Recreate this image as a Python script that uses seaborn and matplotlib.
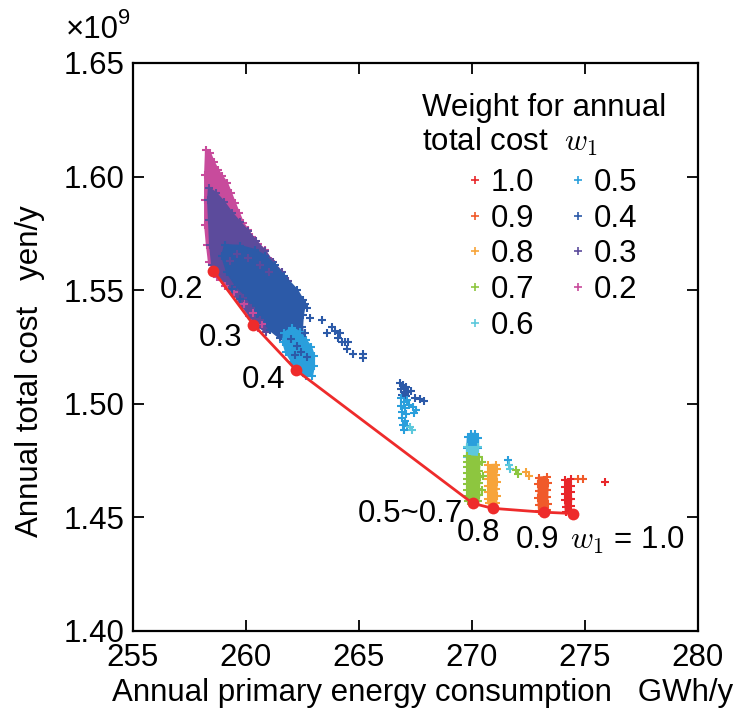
import matplotlib
matplotlib.use("Agg")
import matplotlib.pyplot as plt
import seaborn as sns
from matplotlib.lines import Line2D
from matplotlib.ticker import FormatStrFormatter, MultipleLocator

sns.set_style("ticks")
plt.rcParams['font.family'] = ['Liberation Sans', 'DejaVu Sans']
plt.rcParams['mathtext.fontset'] = 'cm'
for key in ('text.color', 'axes.labelcolor', 'xtick.color', 'ytick.color',
            'axes.edgecolor'):
    plt.rcParams[key] = 'black'

# ---------------------------------------------------------------- data
# energy in GWh/y, cost in 10^9 yen/y
WEIGHTS = ['1.0', '0.9', '0.8', '0.7', '0.6', '0.5', '0.4', '0.3', '0.2']
COLORS = ['#e8262a', '#f05a2a', '#f7a43a', '#8dc63f', '#5cc8dc',
          '#2a9fdc', '#2c5aa8', '#5c4b9c', '#c84b9c']

# Pareto front
FRONT_LABELS = ['0.2', '0.3', '0.4', '0.5~0.7', '0.8', '0.9', '1.0']
FRONT_ENERGY = [258.55, 260.32, 262.23, 270.03, 270.91, 273.17, 274.46]
FRONT_COST = [1.5586, 1.5349, 1.5147, 1.4562, 1.4540, 1.4523, 1.4517]

# dense solution clouds: outline points of each cloud
ENV_02_X = [258.23, 258.41, 258.58, 258.76, 258.94, 259.16, 259.34, 259.51, 259.69,
            259.87, 260.09, 260.27, 260.53, 260.84, 261.10, 261.33, 260.97, 260.53,
            260.13, 259.73, 259.34, 258.94, 258.58, 258.36, 258.27, 258.19, 258.19,
            258.19]
ENV_02_Y = [1.6117, 1.6104, 1.6064, 1.6029, 1.6003, 1.5972, 1.5928, 1.5884, 1.5840,
            1.5796, 1.5765, 1.5734, 1.5704, 1.5677, 1.5630, 1.5567, 1.5435, 1.5334,
            1.5387, 1.5448, 1.5501, 1.5545, 1.5589, 1.5624, 1.5699, 1.5787, 1.5897,
            1.6007]

ENV_03_X = [258.36, 258.67, 259.03, 259.38, 259.73, 260.09, 260.44, 260.84, 261.19,
            261.59, 261.86, 261.77, 261.33, 260.88, 260.53, 260.18, 259.82, 259.47,
            259.12, 258.76, 258.50, 258.41, 258.36, 258.32]
ENV_03_Y = [1.5950, 1.5928, 1.5888, 1.5840, 1.5800, 1.5761, 1.5717, 1.5673, 1.5624,
            1.5580, 1.5541, 1.5457, 1.5369, 1.5316, 1.5343, 1.5387, 1.5435, 1.5484,
            1.5528, 1.5567, 1.5611, 1.5699, 1.5809, 1.5897]

ENV_04_X = [259.07, 259.73, 260.40, 260.84, 261.28, 261.68, 262.26, 262.52,
            262.61, 262.52, 262.48, 262.57, 262.39, 261.95, 261.50, 261.06, 260.49,
            260.00, 259.56, 259.16, 258.94]
ENV_04_Y = [1.5699, 1.5695, 1.5677, 1.5651, 1.5611, 1.5563, 1.5501, 1.5457,
            1.5440, 1.5391, 1.5338, 1.5281, 1.5246, 1.5259, 1.5290, 1.5325, 1.5396,
            1.5475, 1.5519, 1.5580, 1.5651]

ENV_05A_X = [261.68, 262.04, 262.39, 262.65, 262.88, 263.01, 263.01, 262.92, 262.65,
             262.35, 262.04, 261.77, 261.64]
ENV_05A_Y = [1.5312, 1.5334, 1.5316, 1.5281, 1.5250, 1.5211, 1.5167, 1.5123, 1.5123,
             1.5145, 1.5184, 1.5228, 1.5272]

ENV_05B_X = [269.82, 269.96, 270.13, 270.27, 270.27, 269.78]
ENV_05B_Y = [1.4854, 1.4868, 1.4868, 1.4850, 1.4806, 1.4806]

ENV_06_X = [269.78, 270.27, 270.27, 269.78]
ENV_06_Y = [1.4810, 1.4810, 1.4768, 1.4768]

ENV_07_X = [269.80, 269.80, 269.80, 269.80, 269.80, 269.80, 269.80, 269.80, 269.82,
            270.28, 270.33, 270.30, 270.32, 270.36, 270.31, 270.33, 270.30]
ENV_07_Y = [1.4770, 1.4745, 1.4720, 1.4695, 1.4670, 1.4645, 1.4620, 1.4595, 1.4570,
            1.4570, 1.4600, 1.4625, 1.4650, 1.4680, 1.4705, 1.4735, 1.4765]

ENV_08_X = [270.72, 270.72, 270.71, 270.72, 270.72, 270.73, 270.74,
            271.07, 271.09, 271.08, 271.10, 271.08, 271.09, 271.05]
ENV_08_Y = [1.4730, 1.4700, 1.4670, 1.4640, 1.4610, 1.4580, 1.4562,
            1.4565, 1.4595, 1.4625, 1.4655, 1.4685, 1.4715, 1.4732]

ENV_09_X = [272.95, 272.94, 272.95, 272.93, 272.95, 272.97,
            273.33, 273.35, 273.33, 273.34, 273.36, 273.30]
ENV_09_Y = [1.4675, 1.4645, 1.4615, 1.4585, 1.4555, 1.4530,
            1.4532, 1.4560, 1.4590, 1.4620, 1.4650, 1.4678]

ENV_10_X = [274.13, 274.12, 274.13, 274.12, 274.14, 274.15,
            274.38, 274.37, 274.39, 274.37, 274.38, 274.36]
ENV_10_Y = [1.4665, 1.4635, 1.4605, 1.4575, 1.4545, 1.4525,
            1.4525, 1.4550, 1.4580, 1.4610, 1.4640, 1.4668]

# sparse solutions
PTS_02_X = [258.70, 259.05, 259.45, 259.90, 260.30, 260.70]
PTS_02_Y = [1.5560, 1.5520, 1.5490, 1.5440, 1.5400, 1.5350]

PTS_03_X = [259.00, 259.40, 259.85, 260.20, 260.60, 259.30, 259.60, 260.10,
            260.60, 261.00]
PTS_03_Y = [1.5560, 1.5515, 1.5465, 1.5420, 1.5370, 1.5630, 1.5660, 1.5640,
            1.5610, 1.5580]

PTS_04_X = [262.70, 262.83, 262.61, 263.36, 263.60, 263.80, 263.94, 264.07, 264.16,
            264.25, 264.38, 264.47, 264.50, 264.73, 265.18, 265.18,
            262.00, 262.25, 262.45, 262.70, 262.15, 259.40, 259.75,
            266.81, 266.95, 267.08, 266.86, 266.99, 267.17, 267.30, 266.90, 267.08,
            267.48, 267.70, 267.88]
PTS_04_Y = [1.5422, 1.5378, 1.5312, 1.5370, 1.5310, 1.5340, 1.5320, 1.5290, 1.5310,
            1.5270, 1.5270, 1.5240, 1.5270, 1.5220, 1.5220, 1.5200,
            1.5285, 1.5255, 1.5230, 1.5205, 1.5215, 1.5505, 1.5460,
            1.5092, 1.5083, 1.5074, 1.5066, 1.5052, 1.5052, 1.5057, 1.5039, 1.5035,
            1.5026, 1.5022, 1.5013]

PTS_05_X = [266.86, 266.99, 267.12, 266.86, 267.04, 267.21, 266.90, 267.08, 267.39,
            267.52, 267.43, 266.90, 267.04, 266.95, 267.12, 266.99, 271.59]
PTS_05_Y = [1.5026, 1.5008, 1.5017, 1.4991, 1.4982, 1.4995, 1.4964, 1.4955, 1.4986,
            1.4973, 1.4960, 1.4938, 1.4925, 1.4907, 1.4903, 1.4885, 1.4754]

PTS_06_X = [267.26, 267.35, 271.64, 271.68]
PTS_06_Y = [1.4898, 1.4885, 1.4732, 1.4711]

PTS_07_X = [270.44, 270.49, 270.44, 271.95, 272.04]
PTS_07_Y = [1.4744, 1.4683, 1.4621, 1.4707, 1.4693]

PTS_08_X = [272.39, 272.52]
PTS_08_Y = [1.4698, 1.4684]

PTS_09_X = [274.69, 274.91]
PTS_09_Y = [1.4669, 1.4669]

PTS_10_X = [275.88]
PTS_10_Y = [1.4656]

# --------------------------------------------------------------- layout
clouds = {
    '0.2': ([(ENV_02_X, ENV_02_Y)], PTS_02_X, PTS_02_Y),
    '0.3': ([(ENV_03_X, ENV_03_Y)], PTS_03_X, PTS_03_Y),
    '0.4': ([(ENV_04_X, ENV_04_Y)], PTS_04_X, PTS_04_Y),
    '0.5': ([(ENV_05A_X, ENV_05A_Y), (ENV_05B_X, ENV_05B_Y)], PTS_05_X, PTS_05_Y),
    '0.6': ([(ENV_06_X, ENV_06_Y)], PTS_06_X, PTS_06_Y),
    '0.7': ([(ENV_07_X, ENV_07_Y)], PTS_07_X, PTS_07_Y),
    '0.8': ([(ENV_08_X, ENV_08_Y)], PTS_08_X, PTS_08_Y),
    '0.9': ([(ENV_09_X, ENV_09_Y)], PTS_09_X, PTS_09_Y),
    '1.0': ([(ENV_10_X, ENV_10_Y)], PTS_10_X, PTS_10_Y),
}
palette = dict(zip(WEIGHTS, COLORS))

fig = plt.figure(figsize=(7.41, 7.24), dpi=100)
ax = fig.add_axes([133 / 741, 1 - 631 / 724, 565 / 741, 568 / 724])

FS = 22.5
MS = 34
MLW = 1.5

for i, w in enumerate(['0.2', '0.3', '0.4', '0.5', '0.6', '0.7', '0.8', '0.9', '1.0']):
    envs, px, py = clouds[w]
    c = palette[w]
    z = 2 + i
    ex_all, ey_all = [], []
    for ex, ey in envs:
        ax.fill(ex, ey, color=c, lw=1.5, edgecolor=c, zorder=z)
        ex_all += ex
        ey_all += ey
    sns.scatterplot(x=ex_all, y=ey_all, color=c, marker='+', s=MS, linewidth=MLW,
                    zorder=z + 0.5, ax=ax, legend=False)
    if px:
        sns.scatterplot(x=px, y=py, color=c, marker='+', s=MS, linewidth=MLW,
                        zorder=z + 12, ax=ax, legend=False)

sns.lineplot(x=FRONT_ENERGY, y=FRONT_COST, sort=False, estimator=None,
             color='#ee2b2b', lw=2.0, marker='o', markersize=8.5,
             markeredgewidth=0, zorder=40, ax=ax)

# front labels
ax.text(258.1, 1.5501, '0.2', fontsize=FS, ha='right', va='center')
ax.text(259.85, 1.5290, '0.3', fontsize=FS, ha='right', va='center')
ax.text(261.72, 1.5105, '0.4', fontsize=FS, ha='right', va='center')
ax.text(269.6, 1.4516, '0.5~0.7', fontsize=FS, ha='right', va='center')
ax.text(270.27, 1.4432, '0.8', fontsize=FS, ha='center', va='center')
ax.text(272.92, 1.4401, '0.9', fontsize=FS, ha='center', va='center')
ax.text(274.34, 1.4401, '$w_1$ = 1.0', fontsize=FS, ha='left', va='center')

# axes
ax.set_xlim(255, 280)
ax.set_ylim(1.40, 1.65)
ax.xaxis.set_major_locator(MultipleLocator(5))
ax.yaxis.set_major_locator(MultipleLocator(0.05))
ax.yaxis.set_major_formatter(FormatStrFormatter('%.2f'))
ax.tick_params(direction='in', length=8, width=1.3, top=True, right=True,
               labelsize=FS, colors='black')
ax.tick_params(axis='x', pad=9)
ax.tick_params(axis='y', pad=6)
for sp in ax.spines.values():
    sp.set_visible(True)
    sp.set_linewidth(1.6)
    sp.set_color('black')

ax.set_xlabel('Annual primary energy consumption   GWh/y', fontsize=FS)
ax.set_ylabel('Annual total cost   yen/y', fontsize=FS)
ax.xaxis.set_label_coords(0.513, -0.083)
ax.yaxis.set_label_coords(-0.155, 0.458)
ax.text(-0.025, 1.058, '×10', transform=ax.transAxes, fontsize=FS,
        ha='right', va='center')
ax.text(-0.026, 1.078, '9', transform=ax.transAxes, fontsize=FS * 0.7,
        ha='left', va='center')

# legend
fig.text(422 / 741, 1 - 108 / 724, 'Weight for annual', fontsize=FS,
         ha='left', va='center')
fig.text(422 / 741, 1 - 142 / 724, 'total cost  $w_1$', fontsize=FS,
         ha='left', va='center')
handles = [Line2D([], [], ls='', marker='+', color=c, markersize=6, mew=1.2)
           for c in COLORS]
ax.legend(handles, WEIGHTS, ncol=2, frameon=False, fontsize=FS,
          loc='upper left', bbox_to_anchor=(466 / 741, 1 - 168 / 724),
          bbox_transform=fig.transFigure, borderpad=0, borderaxespad=0,
          handlelength=0.55, handletextpad=0.25, columnspacing=1.1,
          labelspacing=0.18)

fig.savefig('out.png', dpi=100)
